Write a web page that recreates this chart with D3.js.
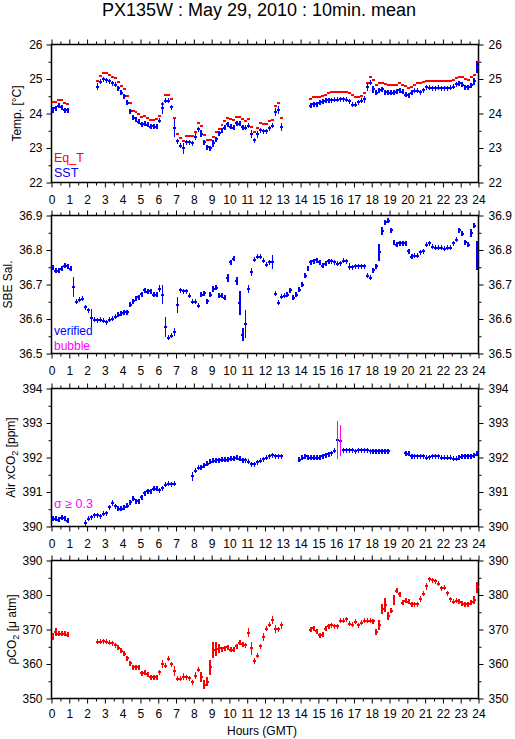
<!DOCTYPE html>
<html><head><meta charset="utf-8">
<script src="https://cdn.jsdelivr.net/npm/d3@7"></script>
<style>body{margin:0;background:#fff}svg{display:block}text{font-family:"Liberation Sans",Arial,sans-serif;fill:#000}</style>
</head><body>
<script>
// ---------- DATA (10-minute means, index i = hour*6 + k) ----------
const hourTicks = [0,1,2,3,4,5,6,7,8,9,10,11,12,13,14,15,16,17,18,19,20,21,22,23,24];
const tempTicks = [22,23,24,25,26];
const salTicks = [36.5,36.6,36.7,36.8,36.9];
const xco2Ticks = [390,391,392,393,394];
const pco2Ticks = [350,360,370,380,390];
const N = null;

const eqT = [
 24.32,24.34,24.40,24.38,24.29,24.27,
 N,N,N,N,N,N,
 N,N,N,24.93,25.09,25.16,
 25.16,25.12,25.07,25.04,24.92,24.80,
 24.70,24.52,24.29,24.08,24.05,24.00,
 23.89,23.93,23.86,23.81,23.81,23.83,
 23.92,24.28,24.55,24.55,24.41,23.86,
 23.41,23.28,23.19,23.35,23.35,23.35,
 23.47,23.72,23.63,23.38,23.23,23.23,
 23.33,23.47,23.55,23.67,23.79,23.88,
 23.83,23.81,23.91,23.91,23.83,23.79,
 23.83,23.60,23.45,23.57,23.72,23.69,
 23.69,23.78,23.81,24.22,24.31,23.86,
 N,N,N,N,N,N,
 N,N,N,24.41,24.49,24.49,
 24.49,24.52,24.53,24.58,24.61,24.61,
 24.61,24.61,24.61,24.61,24.58,24.53,
 24.47,24.47,24.52,24.60,24.89,25.07,
 24.97,24.84,24.87,24.89,24.85,24.82,
 24.82,24.82,24.82,24.87,24.84,24.80,
 24.75,24.78,24.84,24.89,24.87,24.92,
 24.95,24.94,24.95,24.94,24.95,24.94,
 24.94,24.94,24.94,24.97,25.04,25.07,
 25.07,24.99,24.97,25.05,25.13,25.50];

const sst = [
 24.10,24.15,24.23,24.18,24.10,24.10,
 N,N,N,N,N,N,
 N,N,N,24.78,24.92,25.00,
 24.97,24.93,24.87,24.83,24.73,24.60,
 24.50,24.31,24.07,23.87,23.83,23.76,
 23.69,23.70,23.68,23.61,23.63,23.62,
 23.79,24.15,24.37,24.37,24.18,23.57,
 23.20,23.07,22.99,23.17,23.16,23.14,
 23.33,23.54,23.41,23.17,23.02,23.00,
 23.14,23.26,23.43,23.50,23.59,23.69,
 23.62,23.59,23.72,23.71,23.60,23.59,
 23.64,23.41,23.23,23.40,23.52,23.49,
 23.49,23.57,23.64,24.05,24.10,23.60,
 N,N,N,N,N,N,
 N,N,N,24.22,24.27,24.27,
 24.31,24.34,24.37,24.39,24.39,24.40,
 24.40,24.41,24.41,24.40,24.35,24.26,
 24.26,24.32,24.37,24.41,24.76,24.89,
 24.70,24.60,24.68,24.70,24.61,24.60,
 24.60,24.60,24.63,24.68,24.63,24.55,
 24.53,24.60,24.66,24.66,24.62,24.68,
 24.76,24.74,24.73,24.73,24.74,24.73,
 24.73,24.73,24.75,24.78,24.85,24.87,
 24.84,24.76,24.76,24.82,24.94,25.35];
const sstSd = [
 0.09,0,0,0,0,0,0,0,0,0,0,0,
 0,0,0,0.1,0,0,0,0,0,0,0,0,
 0,0,0,0,0,0,0,0,0,0,0,0,
 0,0.17,0,0,0,0.26,0,0,0.15,0,0,0,
 0.1,0,0.1,0,0,0,0.1,0,0,0,0,0,
 0,0,0,0,0,0,0,0.12,0,0.1,0,0,
 0,0,0,0.12,0.12,0.12,0,0,0,0,0,0,
 0,0,0,0,0,0,0,0,0,0,0,0,
 0,0,0,0,0,0,0,0,0,0.1,0.12,0,
 0.1,0,0,0,0,0,0,0,0,0,0,0,
 0,0,0,0,0,0,0,0,0,0,0,0,
 0,0,0,0,0,0,0,0,0,0,0.1,0.18];

const sal = [
 36.748,36.740,36.740,36.746,36.755,36.753,
 36.746,36.693,36.650,36.656,36.658,36.634,
 36.625,36.603,36.598,36.596,36.598,36.595,
 36.590,36.598,36.601,36.607,36.613,36.617,
 36.620,36.620,36.642,36.651,36.659,36.663,
 36.672,36.683,36.679,36.680,36.671,36.671,
 36.688,36.671,36.576,36.545,36.552,36.563,
 36.640,36.683,36.680,36.680,36.668,36.650,
 36.650,36.639,36.671,36.675,36.651,36.671,
 36.687,36.690,36.668,36.668,36.661,36.719,
 36.764,36.774,36.711,36.647,36.555,36.586,
 36.687,36.736,36.772,36.780,36.780,36.769,
 36.757,36.764,36.765,36.673,36.647,36.664,
 36.668,36.671,36.683,36.661,36.671,36.685,
 36.700,36.726,36.747,36.765,36.767,36.770,
 36.764,36.755,36.760,36.767,36.767,36.764,
 36.760,36.762,36.769,36.767,36.751,36.750,
 36.753,36.753,36.753,36.753,36.726,36.719,
 36.741,36.753,36.793,36.856,36.881,36.885,
 36.857,36.823,36.815,36.820,36.820,36.820,
 36.796,36.781,36.784,36.784,36.794,36.796,
 36.815,36.820,36.810,36.807,36.806,36.807,
 36.804,36.806,36.807,36.820,36.830,36.857,
 36.847,36.823,36.815,36.849,36.870,36.783];
const salSd = [
 0,0,0,0,0,0,0,0.029,0,0,0,0,
 0,0.026,0,0,0,0,0,0,0,0,0,0,
 0,0,0,0,0,0,0,0,0,0,0,0,
 0.01,0.027,0.029,0,0,0.012,0.024,0,0,0,0,0,
 0,0,0,0,0,0,0.01,0,0,0,0,0.012,
 0,0,0.012,0.034,0.019,0.041,0.012,0.012,0,0,0,0,
 0,0,0.02,0,0,0,0,0,0,0,0,0,
 0,0.008,0,0,0,0,0,0,0,0,0,0,
 0,0,0,0,0.01,0,0,0,0,0,0,0,
 0,0,0.024,0.012,0,0,0,0,0,0,0,0,
 0,0,0,0,0,0,0,0,0,0,0,0,
 0,0,0,0,0,0,0,0,0,0.012,0,0.042];

const xco2 = [
 390.22,390.22,390.20,390.25,390.24,390.17,
 N,N,N,N,N,390.10,
 390.22,390.27,390.32,390.32,390.30,390.37,
 390.39,390.56,390.68,390.58,390.51,390.51,
 390.56,390.60,390.71,390.81,390.73,390.73,
 390.85,390.97,391.02,391.02,391.09,391.09,
 391.05,391.11,391.21,391.24,391.22,391.24,
 N,N,N,N,N,391.45,
 391.61,391.70,391.72,391.77,391.82,391.87,
 391.90,391.92,391.92,391.94,391.94,391.94,
 391.97,391.97,391.99,391.97,391.92,391.92,
 391.87,391.80,391.80,391.86,391.90,391.95,
 392.00,392.03,392.06,392.04,392.04,392.04,
 N,N,N,N,N,391.94,
 392.00,392.03,392.00,392.00,392.00,392.00,
 392.00,392.04,392.06,392.09,392.13,392.19,
 392.52,392.48,392.21,392.21,392.21,392.21,
 392.18,392.21,392.21,392.21,392.21,392.18,
 392.18,392.18,392.18,392.18,392.18,392.18,
 N,N,N,N,N,392.13,
 392.11,392.04,392.03,392.03,392.03,392.03,
 392.00,392.01,392.03,392.03,392.03,392.00,
 392.00,392.00,392.00,391.97,391.97,392.01,
 392.03,392.03,392.03,392.03,392.06,392.13];
const xco2Sd = [
 0,0,0,0,0,0,0,0,0,0,0,0.08,
 0,0,0,0,0,0,0,0,0.1,0,0,0,
 0,0,0,0,0,0,0,0,0,0,0,0,
 0,0,0,0,0,0,0,0,0,0,0,0.13,
 0,0,0,0,0,0,0,0,0,0,0.08,0,
 0,0,0,0,0,0,0,0,0,0,0,0,
 0,0,0,0,0,0,0,0,0,0,0,0,
 0,0,0,0,0,0,0,0,0,0,0,0,
 0.55,0.45,0,0,0,0,0,0,0,0,0,0,
 0,0,0,0,0,0,0,0,0,0,0,0,
 0,0,0,0,0,0,0,0,0,0,0,0,
 0,0,0,0,0,0,0,0,0,0,0,0];

const pco2 = [
 367.97,369.2,368.7,368.7,368.7,368.45,
 N,N,N,N,N,N,
 N,N,N,366.4,366.5,366.6,
 366.4,366.2,366.0,365.5,364.7,363.8,
 362.9,361.7,360.2,359.0,359.0,359.0,
 357.3,357.5,357.1,356.1,356.1,356.1,
 357.6,359.9,359.5,361.5,360.0,358.0,
 355.7,355.7,356.3,356.1,355.9,354.7,
 356.6,358.3,356.2,354.0,354.9,359.0,
 364.1,364.3,364.5,364.1,364.6,364.9,
 364.1,364.1,365.1,366.2,365.7,365.5,
 369.1,364.5,360.9,362.4,365.1,367.8,
 370.2,371.4,372.8,370.1,370.1,371.2,
 N,N,N,N,N,N,
 N,N,N,370.0,370.3,369.5,
 368.3,368.5,370.2,371.0,371.3,371.0,
 371.0,372.5,372.6,372.9,371.7,371.4,
 372.2,371.2,371.9,372.6,372.6,372.6,
 372.4,369.2,371.3,376.0,377.0,374.0,
 375.5,378.5,381.2,380.2,377.8,378.4,
 378.0,377.3,377.3,377.3,378.8,380.3,
 382.5,384.5,384.3,384.0,383.3,382.0,
 382.1,380.5,378.8,378.1,378.3,378.0,
 377.4,377.3,377.3,377.9,378.5,382.2];
const pco2Sd = [
 1.0,1.1,0,0,0,0,0,0,0,0,0,0,
 0,0,0,0,0,0,0,0,0,0,0,0,
 0,0,0,0,0,0,0,0,0,0,0,0,
 0,1.2,0,0,0,1.5,0,0,1.0,0,0,0,
 1.0,0,1.5,1.3,1.3,2.2,2.3,2.0,1.2,0,0,0,
 0,0,0,0,0,0,1.2,1.8,0.8,0,0,1.2,
 0,0,1.2,1.2,0,1.0,0,0,0,0,0,0,
 0,0,0,0,0,0,0,0,0,0,0,0,
 0,0,0,0,0,0,0,0,0,0,0,0,
 0,0.9,1.5,1.5,2.0,1.2,0,1.5,0,0,0,0,
 0,0,0,0,0.8,0,1.0,0,0,0,0,0,
 0,0,0,0,0,0,0,0,0,0,1.2,1.5];

// ---------- LAYOUT ----------
const W = 515, H = 739, X0 = 51.5, X1 = 478.5;
const STEP = 1/6; // 10-minute bins in hours
const RED = "#ff0000", BLUE = "#0000ff", MAG = "#ff00ff";

const svg = d3.select("body").append("svg").attr("width", W).attr("height", H);
svg.append("rect").attr("width", W).attr("height", H).attr("fill", "#fff");

svg.append("text").attr("x", 259).attr("y", 16).attr("text-anchor", "middle")
  .style("font-size", "18px").text("PX135W : May 29, 2010 : 10min. mean");

const x = d3.scaleLinear().domain([0, 24]).range([X0, X1]);

const panels = [
  {top: 44.5, bottom: 182.5, ticks: tempTicks, fmt: d3.format("d"), lx: 21, pad: 8, label: ["Temp. [°C]"]},
  {top: 215.5, bottom: 353.5, ticks: salTicks, fmt: d3.format(".1f"), lx: 12, pad: 8, label: ["SBE Sal."]},
  {top: 388.5, bottom: 526.5, ticks: xco2Ticks, fmt: d3.format("d"), lx: 14.5, pad: 8, label: ["Air xCO", "2", " [ppm]"]},
  {top: 560.5, bottom: 698.5, ticks: pco2Ticks, fmt: d3.format("d"), lx: 15.5, pad: 6, label: ["ρCO", "2", " [μ atm]"]}
];

const halfHours = hourTicks.slice(0, -1).map(h => h + 0.5);

function styleAxis(g) {
  g.select(".domain").remove();
  g.selectAll(".tick line").attr("stroke", "#000").attr("stroke-width", 1);
  g.selectAll(".tick text").style("font-size", "12px").attr("fill", "#000")
    .style("font-family", "'Liberation Sans', Arial, sans-serif");
}

panels.forEach(p => {
  const y = d3.scaleLinear().domain([p.ticks[0], p.ticks[p.ticks.length - 1]]).range([p.bottom, p.top]);
  p.y = y;
  const g = svg.append("g");
  const minorY = p.ticks.slice(0, -1).map((t, i) => (t + p.ticks[i + 1]) / 2);

  g.append("g").attr("transform", `translate(0,${p.bottom})`)
    .call(d3.axisBottom(x).tickValues(hourTicks).tickSize(5).tickPadding(p.pad).tickFormat(d3.format("d"))).call(styleAxis);
  g.append("g").attr("transform", `translate(0,${p.bottom})`)
    .call(d3.axisBottom(x).tickValues(halfHours).tickSize(3).tickFormat("")).call(styleAxis);
  g.append("g").attr("transform", `translate(0,${p.top})`)
    .call(d3.axisTop(x).tickValues(hourTicks).tickSize(5).tickFormat("")).call(styleAxis);
  g.append("g").attr("transform", `translate(0,${p.top})`)
    .call(d3.axisTop(x).tickValues(halfHours).tickSize(3).tickFormat("")).call(styleAxis);

  g.append("g").attr("transform", `translate(${X0},0)`)
    .call(d3.axisLeft(y).tickValues(p.ticks).tickSize(5).tickPadding(4).tickFormat(p.fmt)).call(styleAxis);
  g.append("g").attr("transform", `translate(${X0},0)`)
    .call(d3.axisLeft(y).tickValues(minorY).tickSize(3).tickFormat("")).call(styleAxis);
  g.append("g").attr("transform", `translate(${X1},0)`)
    .call(d3.axisRight(y).tickValues(p.ticks).tickSize(5).tickPadding(5).tickFormat(p.fmt)).call(styleAxis);
  g.append("g").attr("transform", `translate(${X1},0)`)
    .call(d3.axisRight(y).tickValues(minorY).tickSize(3).tickFormat("")).call(styleAxis);

  g.append("rect").attr("x", X0).attr("y", p.top).attr("width", X1 - X0).attr("height", p.bottom - p.top)
    .attr("fill", "none").attr("stroke", "#000").attr("stroke-width", 1.5);

  const t = g.append("text").attr("transform", `translate(${p.lx},${(p.top + p.bottom) / 2}) rotate(-90)`)
    .attr("text-anchor", "middle").style("font-size", "12px");
  t.append("tspan").text(p.label[0]);
  if (p.label.length > 1) {
    t.append("tspan").attr("dy", 3).style("font-size", "9px").text(p.label[1]);
    t.append("tspan").attr("dy", -3).text(p.label[2]);
  }
  p.g = g;
});

function drawSeries(p, vals, sds, color, opts) {
  const pts = vals.map((v, i) => ({i, v, sd: sds ? sds[i] : 0})).filter(d => d.v !== null);
  const g = p.g.append("g").attr("shape-rendering", "crispEdges");
  g.selectAll("line.h").data(pts).join("line")
    .attr("x1", d => x(d.i * STEP)).attr("x2", d => x((d.i + 1) * STEP))
    .attr("y1", d => p.y(d.v)).attr("y2", d => p.y(d.v))
    .attr("stroke", color).attr("stroke-width", 2);
  if (opts.vertical) {
    g.selectAll("line.v").data(pts).join("line")
      .attr("x1", d => x((d.i + 0.5) * STEP)).attr("x2", d => x((d.i + 0.5) * STEP))
      .attr("y1", d => Math.min(p.y(d.v + d.sd), p.y(d.v) - 2.5))
      .attr("y2", d => Math.max(p.y(d.v - d.sd), p.y(d.v) + 2.5))
      .attr("stroke", d => (opts.flag && d.sd >= opts.flag) ? MAG : color)
      .attr("stroke-width", 1.5);
  }
}

drawSeries(panels[0], eqT, null, RED, {vertical: false});
drawSeries(panels[0], sst, sstSd, BLUE, {vertical: true});
drawSeries(panels[1], sal, salSd, BLUE, {vertical: true});
drawSeries(panels[2], xco2, xco2Sd, BLUE, {vertical: true, flag: 0.3});
drawSeries(panels[3], pco2, pco2Sd, RED, {vertical: true});

// legends
const leg = (txt, xx, yy, col, fs) => svg.append("text").attr("x", xx).attr("y", yy)
  .style("font-size", fs + "px").attr("fill", col).style("fill", col).text(txt);
leg("Eq_T", 54, 162, RED, 12.5);
leg("SST", 54, 177, BLUE, 12.5);
leg("verified", 54, 335, BLUE, 12);
leg("bubble", 54, 350, MAG, 12);
leg("σ ≥ 0.3", 54, 508, MAG, 12.5);

svg.append("text").attr("x", 262).attr("y", 735).attr("text-anchor", "middle")
  .style("font-size", "12px").text("Hours (GMT)");
</script>
</body></html>
